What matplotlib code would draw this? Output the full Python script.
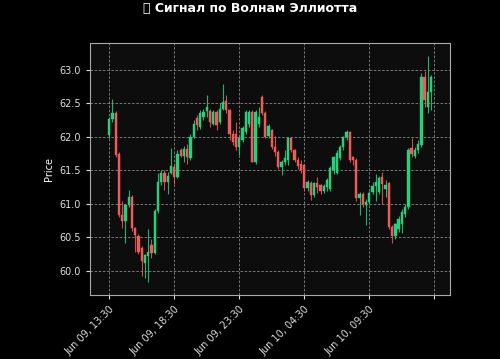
import matplotlib
matplotlib.use("Agg")
import matplotlib.pyplot as plt
from matplotlib.ticker import FixedLocator, FuncFormatter
import numpy as np
import pandas as pd

# 15-minute candles
opens = [62.03, 62.27, 62.36, 61.75, 60.84, 60.74, 60.98, 61.11, 60.64, 60.52,
         60.35, 60.12, 60.22, 60.39, 60.27, 60.89, 61.32, 61.46, 61.32, 61.46,
         61.55, 61.40, 61.80, 61.72, 61.82, 61.68, 62.00, 62.28, 62.15, 62.30,
         62.38, 62.39, 62.20, 62.37, 62.22, 62.42, 62.54, 62.40, 62.05, 62.05,
         61.85, 61.95, 62.07, 62.20, 62.37, 61.63, 62.20, 62.59, 62.35, 62.02,
         62.10, 61.85, 61.78, 61.55, 61.62, 61.66, 61.98, 61.80, 61.66, 61.60,
         61.58, 61.24, 61.31, 61.13, 61.31, 61.28, 61.20, 61.25, 61.23, 61.50,
         61.46, 61.68, 61.85, 62.00, 62.07, 61.70, 61.65, 61.09, 61.15, 60.98,
         61.03, 61.18, 61.27, 61.18, 61.40, 61.22, 61.31, 60.66, 60.52, 60.62,
         60.70, 60.85, 60.95, 61.83, 61.72, 61.80, 61.88, 62.89, 62.45, 62.67]
highs = [62.30, 62.57, 62.38, 61.78, 61.04, 60.99, 61.21, 61.13, 60.66, 60.55,
         60.37, 60.26, 60.62, 60.48, 60.92, 61.46, 61.50, 61.50, 61.48, 61.83,
         61.60, 61.80, 61.84, 61.86, 61.90, 62.05, 62.25, 62.32, 62.40, 62.42,
         62.62, 62.42, 62.40, 62.40, 62.50, 62.79, 62.62, 62.42, 62.10, 62.22,
         62.02, 62.16, 62.40, 62.40, 62.40, 62.40, 62.45, 62.62, 62.38, 62.20,
         62.12, 62.02, 61.80, 61.65, 61.80, 62.00, 62.00, 61.82, 61.70, 61.65,
         61.60, 61.36, 61.34, 61.33, 61.40, 61.30, 61.30, 61.38, 61.56, 61.72,
         61.80, 61.88, 62.02, 62.10, 62.09, 61.72, 61.68, 61.18, 61.18, 61.08,
         61.20, 61.32, 61.45, 61.42, 61.48, 61.35, 61.33, 60.68, 60.72, 60.82,
         60.92, 61.00, 61.83, 61.98, 61.85, 61.95, 62.95, 62.98, 63.21, 62.92]
lows = [61.98, 62.22, 61.70, 60.80, 60.64, 60.42, 60.95, 60.60, 60.29, 60.26,
        59.92, 59.90, 59.83, 60.20, 60.25, 60.86, 61.28, 61.21, 61.15, 61.44,
        61.30, 61.38, 61.70, 61.62, 61.60, 61.65, 61.98, 62.10, 62.12, 62.25,
        62.30, 62.15, 62.18, 62.10, 62.20, 62.40, 62.35, 61.95, 61.88, 61.80,
        61.73, 61.92, 62.05, 62.15, 61.63, 61.60, 62.15, 62.33, 61.98, 61.98,
        61.82, 61.72, 61.52, 61.43, 61.58, 61.58, 61.78, 61.62, 61.52, 61.46,
        61.20, 61.20, 61.06, 61.10, 61.16, 61.15, 61.17, 61.20, 61.20, 61.45,
        61.44, 61.66, 61.80, 61.96, 61.62, 61.58, 61.05, 60.83, 60.96, 60.69,
        61.00, 61.15, 61.05, 61.15, 61.00, 61.10, 60.62, 60.42, 60.48, 60.58,
        60.56, 60.80, 60.92, 61.70, 61.68, 61.76, 61.85, 62.45, 62.35, 62.40]
closes = [62.27, 62.36, 61.73, 60.84, 60.74, 60.98, 61.11, 60.64, 60.54, 60.29,
          60.15, 60.24, 60.29, 60.27, 60.89, 61.33, 61.46, 61.32, 61.42, 61.56,
          61.40, 61.75, 61.72, 61.82, 61.70, 62.00, 62.20, 62.18, 62.35, 62.37,
          62.45, 62.22, 62.37, 62.18, 62.42, 62.52, 62.40, 62.05, 61.93, 61.85,
          61.99, 62.13, 62.37, 62.37, 61.63, 62.37, 62.30, 62.35, 62.00, 62.17,
          61.85, 61.78, 61.55, 61.62, 61.68, 61.98, 61.80, 61.66, 61.56, 61.50,
          61.24, 61.33, 61.13, 61.31, 61.25, 61.20, 61.27, 61.35, 61.53, 61.70,
          61.76, 61.85, 62.00, 62.08, 61.65, 61.65, 61.09, 61.15, 61.00, 61.03,
          61.16, 61.27, 61.33, 61.38, 61.30, 61.28, 60.66, 60.52, 60.70, 60.78,
          60.88, 60.95, 61.80, 61.75, 61.80, 61.90, 62.89, 62.55, 62.67, 62.89]

times = pd.date_range("2024-06-09 13:30", periods=len(closes), freq="15min")
tick_idx = [0, 20, 40, 60, 80, 100]
yticks = [60.0, 60.5, 61.0, 61.5, 62.0, 62.5, 63.0]

up_color = "#26d07c"
down_color = "#ef5b5b"

fig = plt.figure(figsize=(5.0, 3.59), dpi=100, facecolor="black")
ax = fig.add_axes([0.18, 0.178, 0.72, 0.702])
ax.set_facecolor("#0d0d0d")

o = np.array(opens)
h = np.array(highs)
l = np.array(lows)
c = np.array(closes)
x = np.arange(len(c))
colors = [up_color if cc >= oo else down_color for oo, cc in zip(o, c)]

ax.vlines(x, l, h, colors=colors, linewidth=0.8, alpha=0.85, zorder=2)
body = np.maximum(np.abs(c - o), 0.01)
ax.bar(x, body, bottom=np.minimum(o, c), width=0.7, color=colors,
       edgecolor=colors, linewidth=0.3, zorder=3)

ax.set_xlim(-5.9, 104.8)
ax.set_ylim(59.64, 63.40)
ax.set_yticks(yticks)
ax.yaxis.set_major_formatter(FuncFormatter(lambda v, p: f"{v:.1f}"))
ax.xaxis.set_major_locator(FixedLocator(tick_idx))


def fmt_time(v, pos):
    i = int(round(v))
    if 0 <= i < len(times):
        return times[i].strftime("%b %d, %H:%M")
    return ""


ax.xaxis.set_major_formatter(FuncFormatter(fmt_time))
plt.setp(ax.get_xticklabels(), rotation=45, ha="right", rotation_mode="anchor")

ax.grid(True, color="#bbbbbb", linestyle=(0, (3, 2)), linewidth=0.6, alpha=0.7)
ax.set_axisbelow(True)
ax.tick_params(colors="#dddddd", labelsize=7, length=3)
for s in ax.spines.values():
    s.set_color("#aaaaaa")
ax.set_ylabel("Price", color="white", fontsize=7)

# the emoji has no glyph in the installed fonts; the reference shows it as a box too
fig.suptitle("\U0001F30A Сигнал по Волнам Эллиотта", color="white",
             fontsize=9, fontweight="bold", y=0.995)

fig.savefig("out.png", dpi=100, facecolor=fig.get_facecolor())
